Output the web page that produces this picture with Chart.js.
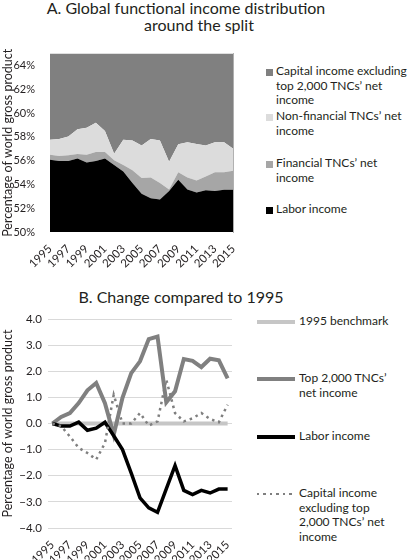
<!DOCTYPE html>
<html>
<head>
<meta charset="utf-8">
<script src="https://cdn.jsdelivr.net/npm/chart.js@4.4.1/dist/chart.umd.min.js"></script>
<style>
body { margin:0; width:409px; height:560px; background:#fff; font-family: Lato, sans-serif; color:#231f20; position:relative; overflow:hidden; }
.abs { position:absolute; }
.title { font-size:16px; text-align:center; line-height:18px; white-space:nowrap; }
.item { position:absolute; font-size:12px; line-height:14.5px; white-space:nowrap; }
.sq { position:absolute; width:7px; height:7px; }
.ln { position:absolute; width:38px; }
</style>
</head>
<body>
<div class="abs title" style="left:0;width:372px;top:-1px;">A. Global functional income distribution</div>
<div class="abs title" style="left:0;width:398px;top:16px;">around the split</div>
<div class="abs" style="left:0;top:40px;width:245px;height:230px;"><canvas id="chartA"></canvas></div>
<div class="abs" id="legendA" style="left:0;top:0;"></div>

<div class="abs title" style="left:0;width:362px;top:288px;">B. Change compared to 1995</div>
<div class="abs" style="left:0;top:305px;width:245px;height:255px;"><canvas id="chartB"></canvas></div>
<div class="abs" id="legendB" style="left:0;top:0;"></div>

<script>
Chart.defaults.font.family = "Lato, sans-serif";
Chart.defaults.color = "#231f20";

const years = ["1995","1996","1997","1998","1999","2000","2001","2002","2003","2004","2005",
               "2006","2007","2008","2009","2010","2011","2012","2013","2014","2015"];

// A: shares of world gross product, % (stacked from the bottom)
const laborShare = [56.07,55.96,55.96,56.17,55.85,55.96,56.17,55.63,55.08,54.13,53.22,52.84,52.73,53.44,54.40,53.58,53.33,53.52,53.44,53.55,53.55];
const financialShare = [0.43,0.43,0.49,0.39,0.65,0.76,0.55,0.41,0.55,1.07,1.32,1.75,1.40,0.14,0.63,1.01,0.99,1.15,1.59,1.48,1.59];
const nonFinancialShare = [1.26,1.42,1.58,2.07,2.27,2.46,1.78,0.54,2.13,2.50,2.73,3.22,3.57,2.32,2.35,2.95,3.08,2.60,2.51,2.51,1.86];
const capitalShare = [42.24,42.19,41.97,41.37,41.23,40.82,41.50,43.42,42.24,42.30,42.73,42.19,42.30,44.10,42.62,42.46,42.60,42.73,42.46,42.46,43.00];

// B: change compared to 1995, percentage points
const benchmark = [0,0,0,0,0,0,0,0,0,0,0,0,0,0,0,0,0,0,0,0,0];
const tncChange = [0,0.25,0.40,0.78,1.27,1.55,0.78,-0.43,0.98,1.93,2.38,3.23,3.33,0.81,1.23,2.47,2.40,2.16,2.48,2.42,1.73];
const laborChange = [0,-0.10,-0.10,0.05,-0.26,-0.18,0.05,-0.47,-1.00,-1.90,-2.85,-3.23,-3.40,-2.50,-1.61,-2.56,-2.72,-2.56,-2.66,-2.51,-2.51];
const capitalChange = [0,-0.10,-0.50,-0.93,-1.13,-1.38,-0.75,1.10,0.00,0.00,0.40,-0.08,0.08,1.68,0.40,0.08,0.20,0.40,0.17,0.05,0.72];

const yTitle = "Percentage of world gross product";

function xLabel(val, i) { return i % 2 === 0 ? years[i] : ""; }

const ctxA = document.getElementById("chartA").getContext("2d");
const chartA = new Chart(ctxA, {
    type: "line",
    data: {
        labels: years,
        datasets: [
            { label: "Labor income", data: laborShare, backgroundColor: "#000000", fill: "start" },
            { label: "Financial TNCs\u2019 net income", data: financialShare, backgroundColor: "#a6a6a6", fill: "-1" },
            { label: "Non-financial TNCs\u2019 net income", data: nonFinancialShare, backgroundColor: "#dcdcdc", fill: "-1" },
            { label: "Capital income excluding top 2,000 TNCs\u2019 net income", data: capitalShare, backgroundColor: "#808080", fill: "-1" }
        ]
    },
    options: {
        responsive: true,
        maintainAspectRatio: false,
        animation: false,
        elements: { line: { borderWidth: 0, tension: 0 }, point: { radius: 0 } },
        layout: { padding: { top: 7, right: 8, left: 0, bottom: 0 } },
        plugins: { legend: { display: false }, tooltip: { enabled: false } },
        scales: {
            x: {
                offset: false,
                grid: { display: false },
                border: { display: false },
                ticks: { autoSkip: false, minRotation: 45, maxRotation: 45, font: { size: 11.5 }, padding: 2, callback: xLabel },
                afterFit: (s) => { s.height = 38; }
            },
            y: {
                stacked: true,
                min: 50, max: 65,
                grid: { display: false },
                border: { display: false },
                ticks: { stepSize: 2, includeBounds: false, font: { size: 11 }, padding: 7, callback: (v) => v + "%" },
                title: { display: true, text: yTitle, font: { size: 12.5 }, padding: { top: 0, bottom: 0 } },
                afterFit: (s) => { s.width = 50; }
            },
            y2: {
                position: "right",
                min: 50, max: 65,
                grid: { display: false, drawOnChartArea: false },
                border: { display: true, color: "#b0b0b0", width: 1 },
                ticks: { display: false },
                afterFit: (s) => { s.width = 0; }
            }
        }
    }
});

const ctxB = document.getElementById("chartB").getContext("2d");
const chartB = new Chart(ctxB, {
    type: "line",
    data: {
        labels: years,
        datasets: [
            { label: "1995 benchmark", data: benchmark, borderColor: "#c6c6c6", borderWidth: 4, order: 4 },
            { label: "Top 2,000 TNCs\u2019 net income", data: tncChange, borderColor: "#808080", borderWidth: 4, order: 3 },
            { label: "Labor income", data: laborChange, borderColor: "#000000", borderWidth: 3.5, order: 2 },
            { label: "Capital income excluding top 2,000 TNCs\u2019 net income", data: capitalChange, borderColor: "#7f7f7f", borderWidth: 2.5, borderDash: [2.5, 4], order: 1 }
        ]
    },
    options: {
        responsive: true,
        maintainAspectRatio: false,
        animation: false,
        elements: { line: { tension: 0, fill: false }, point: { radius: 0 } },
        layout: { padding: { top: 14, right: 13, left: 0, bottom: 0 } },
        plugins: { legend: { display: false }, tooltip: { enabled: false } },
        scales: {
            x: {
                offset: true,
                grid: { display: false },
                border: { display: false },
                ticks: { autoSkip: false, minRotation: 45, maxRotation: 45, font: { size: 11.5 }, padding: 2, callback: xLabel },
                afterFit: (s) => { s.height = 32; }
            },
            y: {
                min: -4, max: 4,
                grid: { color: "#d9d9d9", lineWidth: 1, drawTicks: false },
                border: { display: false },
                ticks: { stepSize: 1, font: { size: 11.5 }, padding: 6, callback: (v) => v.toFixed(1).replace("-", "\u2212") },
                title: { display: true, text: yTitle, font: { size: 12.5 }, padding: { top: 0, bottom: 0 } },
                afterFit: (s) => { s.width = 48; }
            }
        }
    }
});

// legends (html, built from the datasets)
const legendALines = [
    ["Capital income excluding", "top 2,000 TNCs\u2019 net", "income"],
    ["Non-financial TNCs\u2019 net", "income"],
    ["Financial TNCs\u2019 net", "income"],
    ["Labor income"]
];
const legendATop = [72, 117, 164, 210];
const legA = document.getElementById("legendA");
[3, 2, 1, 0].forEach((di, k) => {
    const ds = chartA.data.datasets[di];
    const sq = document.createElement("div");
    sq.className = "sq";
    sq.style.left = "266px";
    sq.style.top = (legendATop[k] - 3) + "px";
    sq.style.background = ds.backgroundColor;
    legA.appendChild(sq);
    const t = document.createElement("div");
    t.className = "item";
    t.style.left = "276px";
    t.style.top = (legendATop[k] - 8) + "px";
    t.innerHTML = legendALines[k].join("<br>");
    legA.appendChild(t);
});

const legendBLines = [
    ["1995 benchmark"],
    ["Top 2,000 TNCs\u2019", "net income"],
    ["Labor income"],
    ["Capital income", "excluding top", "2,000 TNCs\u2019 net", "income"]
];
const legendBTop = [322, 379, 437, 494];
const legB = document.getElementById("legendB");
chartB.data.datasets.forEach((ds, k) => {
    const ln = document.createElement("div");
    ln.className = "ln";
    ln.style.left = "257px";
    ln.style.top = (legendBTop[k] - ds.borderWidth / 2) + "px";
    ln.style.height = ds.borderWidth + "px";
    if (ds.borderDash) {
        ln.style.background = "repeating-linear-gradient(to right, " + ds.borderColor + " 0 2.5px, transparent 2.5px 6.5px)";
    } else {
        ln.style.background = ds.borderColor;
    }
    legB.appendChild(ln);
    const t = document.createElement("div");
    t.className = "item";
    t.style.left = "299px";
    t.style.top = (legendBTop[k] - 8) + "px";
    t.innerHTML = legendBLines[k].join("<br>");
    legB.appendChild(t);
});
</script>
</body>
</html>
